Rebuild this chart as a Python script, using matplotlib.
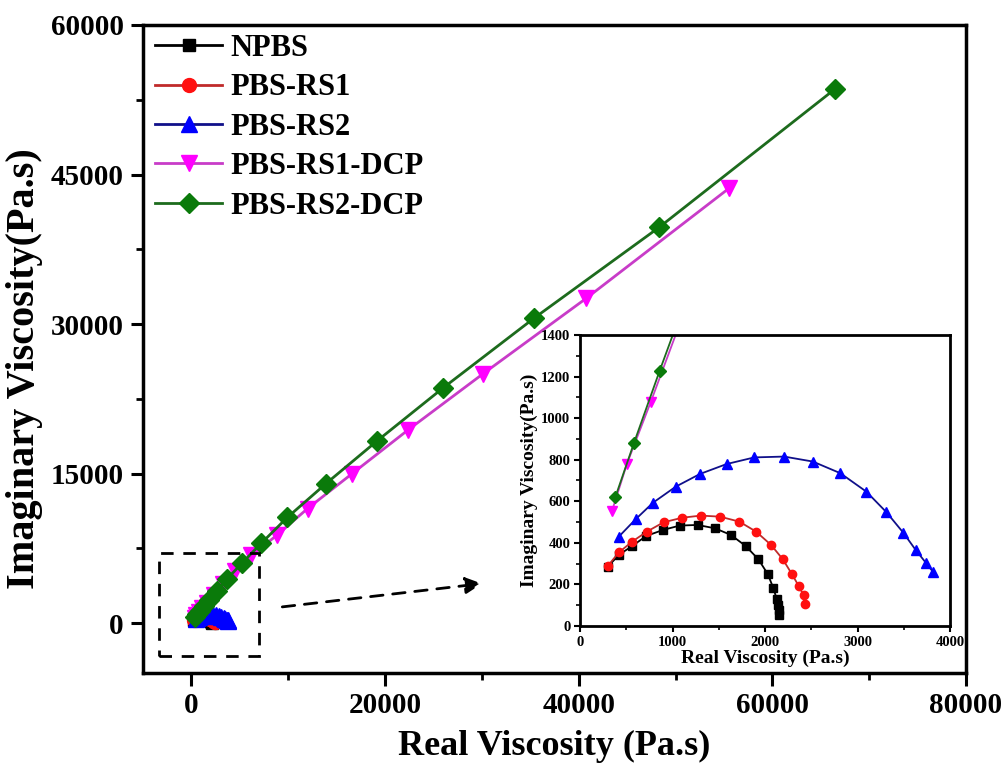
import matplotlib
matplotlib.use('Agg')
import matplotlib.pyplot as plt
from matplotlib.patches import Rectangle, FancyArrowPatch

plt.rcParams['font.family'] = ['Liberation Serif', 'DejaVu Serif']
plt.rcParams['font.weight'] = 'bold'

# data
npbs_x = [300, 420, 564, 716, 897, 1078, 1270, 1458, 1631, 1790, 1928, 2029, 2091, 2127, 2138, 2149, 2156]
npbs_y = [285, 342, 385, 433, 462, 483, 486, 470, 438, 385, 321, 250, 181, 128, 101, 77, 53]

rs1_x = [300, 420, 564, 723, 904, 1107, 1306, 1512, 1722, 1903, 2065, 2192, 2290, 2362, 2416, 2427]
rs1_y = [289, 354, 406, 454, 499, 521, 531, 526, 502, 454, 390, 321, 250, 194, 149, 106]

rs2_x = [420, 600, 789, 1034, 1295, 1584, 1884, 2206, 2517, 2814, 3096, 3313, 3494, 3628, 3744, 3820]
rs2_y = [430, 513, 593, 670, 731, 779, 811, 815, 791, 735, 646, 547, 449, 366, 301, 258]

rs1dcp_x = [347, 506, 763, 1100, 1600, 2300, 3250, 4500, 6200, 8800, 12000, 16600, 22400, 30100, 40800, 55500]
rs1dcp_y = [555, 779, 1076, 1480, 2050, 2850, 3900, 5200, 6800, 8800, 11500, 15000, 19400, 25000, 32600, 43600]

rs2dcp_x = [383, 582, 861, 1250, 1800, 2600, 3700, 5200, 7200, 9900, 13900, 19200, 26000, 35400, 48300, 66500]
rs2dcp_y = [622, 879, 1228, 1700, 2350, 3250, 4450, 6000, 8000, 10600, 14000, 18300, 23600, 30600, 39700, 53600]

labels = ['NPBS', 'PBS-RS1', 'PBS-RS2', 'PBS-RS1-DCP', 'PBS-RS2-DCP']
xs = [npbs_x, rs1_x, rs2_x, rs1dcp_x, rs2dcp_x]
ys = [npbs_y, rs1_y, rs2_y, rs1dcp_y, rs2dcp_y]
markers = ['s', 'o', '^', 'v', 'D']
mcolors = ['#000000', '#ff1010', '#0000ff', '#ff00ff', '#0a7a0a']
lcolors = ['#000000', '#c02a2a', '#10108a', '#c83cc8', '#1d6b1d']
msize_main = [9, 10, 11, 12, 10]
msize_ins = [5.5, 6, 6.5, 6.5, 6]

fig = plt.figure(figsize=(10.03, 7.66), dpi=100)
ax = fig.add_axes([0.1426, 0.1214, 0.8205, 0.846])

for x, y, m, mc, lc, ms, lab in zip(xs, ys, markers, mcolors, lcolors, msize_main, labels):
    ax.plot(x, y, color=lc, lw=2, marker=m, ms=ms, mfc=mc, mec=mc, label=lab)

ax.set_xlim(-5000, 80000)
ax.set_ylim(-5000, 60000)
ax.set_xticks([0, 20000, 40000, 60000, 80000])
ax.set_xticks([10000, 30000, 50000, 70000], minor=True)
ax.set_yticks([0, 15000, 30000, 45000, 60000])
ax.set_yticks([7500, 22500, 37500, 52500], minor=True)
ax.tick_params(which='major', direction='out', length=9, width=2.2, labelsize=21, pad=5)
ax.tick_params(which='minor', direction='out', length=5, width=2)
for s in ax.spines.values():
    s.set_linewidth(2.5)
ax.set_xlabel('Real Viscosity (Pa.s)', fontsize=26, fontweight='bold')
ax.set_ylabel('Imaginary Viscosity(Pa.s)', fontsize=29, fontweight='bold')
ax.xaxis.set_label_coords(0.5, -0.088)
ax.yaxis.set_label_coords(-0.122, 0.47)

leg = ax.legend(loc='upper left', frameon=False, prop={'size': 22, 'weight': 'bold'},
                handlelength=2.2, handletextpad=0.25, labelspacing=0.34,
                borderaxespad=0.0, bbox_to_anchor=(0.0, 1.005))

# zoom box and arrow
ax.add_patch(Rectangle((-3300, -3300), 10300, 10300, fill=False, ls=(0, (4.5, 3.5)), lw=2, color='k', zorder=5))
ax.add_patch(FancyArrowPatch((9100, 1600), (30300, 4000), arrowstyle='-|>', mutation_scale=25,
                             ls=(0, (4.5, 3.5)), lw=2, color='k', zorder=5))

# inset
ins = fig.add_axes([0.5783, 0.1828, 0.3689, 0.3799])
for x, y, m, mc, lc, ms in zip(xs, ys, markers, mcolors, lcolors, msize_ins):
    ins.plot(x, y, color=lc, lw=1.3, marker=m, ms=ms, mfc=mc, mec=mc)
ins.set_xlim(0, 4000)
ins.set_ylim(0, 1400)
ins.set_xticks([0, 1000, 2000, 3000, 4000])
ins.set_xticks([500, 1500, 2500, 3500], minor=True)
ins.set_yticks(range(0, 1401, 200))
ins.set_yticks(range(100, 1400, 200), minor=True)
ins.tick_params(which='major', direction='out', length=4, width=1.5, labelsize=10.5, pad=3)
ins.tick_params(which='minor', direction='out', length=3, width=1.2)
for s in ins.spines.values():
    s.set_linewidth(2)
ins.set_xlabel('Real Viscosity (Pa.s)', fontsize=14, fontweight='bold', labelpad=1)
ins.set_ylabel('Imaginary Viscosity(Pa.s)', fontsize=14, fontweight='bold', labelpad=2)

fig.savefig('out.png', dpi=100)
